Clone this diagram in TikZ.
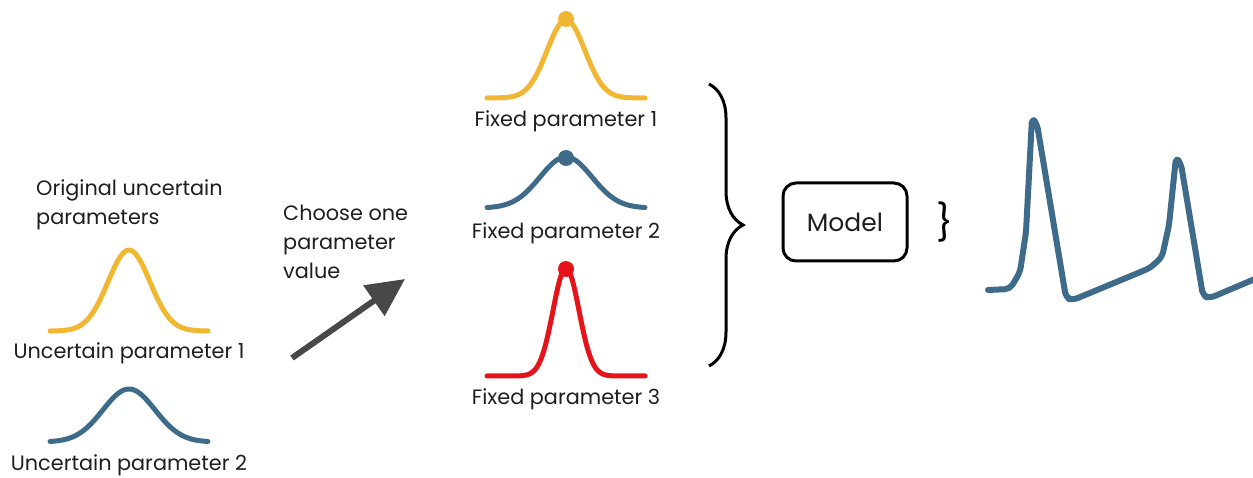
\documentclass[tikz,border=0pt]{standalone}
\usepackage{fontspec}
\setmainfont{Poppins}
\usetikzlibrary{decorations.pathreplacing,arrows.meta}
\definecolor{cyel}{RGB}{242,183,50}
\definecolor{cblu}{RGB}{62,107,138}
\definecolor{cred}{RGB}{230,20,26}
\definecolor{carr}{RGB}{72,72,72}
\definecolor{ctxt}{RGB}{30,30,30}
\tikzset{
  lbl/.style={text=ctxt,font=\fontsize{20.8}{29}\selectfont,inner sep=0pt},
  bell/.style={line width=5pt,line cap=round,line join=round},
  topdot/.style={circle,inner sep=0pt,minimum size=16pt},
}
\begin{document}
\begin{tikzpicture}[x=1pt,y=-1pt]
\useasboundingbox (0,0) rectangle (1253,478);
\clip (0,0) rectangle (1253,478);
% left column
\node[lbl,align=left,anchor=west] (orig) at (36,205) {Original uncertain\\parameters};
\draw[bell,cyel] plot[domain=-79:79,samples=90] ({129+\x},{331-81*exp(-0.5*(\x/21)^2)});
\node[lbl] (u1) at (129,353) {Uncertain parameter 1};
\draw[bell,cblu] plot[domain=-79:79,samples=90] ({129+\x},{442-53*exp(-0.5*(\x/26)^2)});
\node[lbl] (u2) at (129,465) {Uncertain parameter 2};
% choose text and arrow
\node[lbl,align=left,anchor=west] (choose) at (283,242) {Choose one\\parameter\\value};
\coordinate (a0) at (292,358);
\coordinate (a1) at (405,279);
\draw[carr,line width=6pt,-{Triangle[length=38pt,width=36pt]}] (a0) -- (a1);
% fixed parameters
\draw[bell,cyel] plot[domain=-79:79,samples=90] ({566+\x},{98-78*exp(-0.5*(\x/19)^2)});
\node[topdot,fill=cyel] (d1) at (566,19) {};
\node[lbl] (f1) at (566,121) {Fixed parameter 1};
\draw[bell,cblu] plot[domain=-79:79,samples=90] ({566+\x},{208-51*exp(-0.5*(\x/26)^2)});
\node[topdot,fill=cblu] (d2) at (566,158) {};
\node[lbl] (f2) at (566,233) {Fixed parameter 2};
\draw[bell,cred] plot[domain=-79:79,samples=90] ({566+\x},{376-108*exp(-0.5*(\x/13)^2)});
\node[topdot,fill=cred] (d3) at (566,269) {};
\node[lbl] (f3) at (566,399) {Fixed parameter 3};
% big brace
\coordinate (b0) at (709,84);
\coordinate (b1) at (709,366);
\draw[black,line width=3pt,decorate,decoration={brace,amplitude=34pt,aspect=0.5}] (b0) -- (b1);
% model
\node[draw=black,line width=3pt,rounded corners=13pt,minimum width=124pt,minimum height=78pt,inner sep=0pt,text=ctxt,font=\fontsize{25}{30}\selectfont] (model) at (845,222) {Model};
\node[text=black,font=\fontsize{36}{40}\selectfont,inner sep=0pt] (sb) at (945,222) {\}};
% trace
\draw[cblu,line width=6pt,line cap=round,line join=round,rounded corners=5pt]
 (988,290) -- (1010,289) -- (1020,272) -- (1026,232) -- (1032,118) -- (1037,124) -- (1066,298) -- (1073,300) -- (1150,268) -- (1162,257) -- (1169,225) -- (1176,157) -- (1181,164) -- (1203,296) -- (1210,298) -- (1262,276);
\end{tikzpicture}
\end{document}
